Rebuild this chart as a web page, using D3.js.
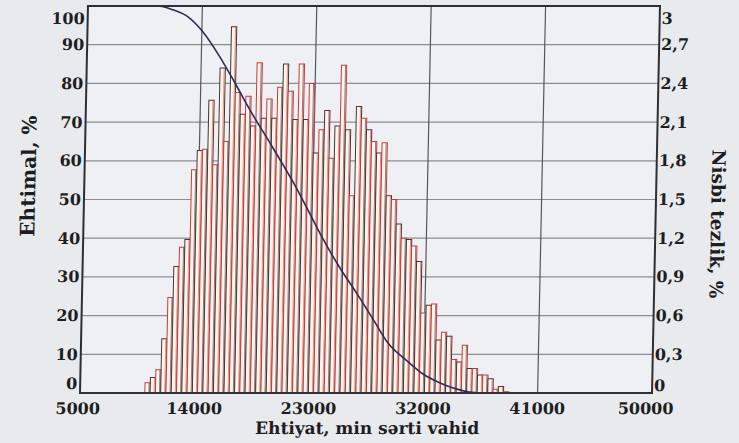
<!DOCTYPE html>
<html>
<head>
<meta charset="utf-8">
<script src="https://cdn.jsdelivr.net/npm/d3@7"></script>
<style>
  html, body { margin: 0; padding: 0; background: #e9eaee; }
  svg { display: block; }
  text { font-family: "DejaVu Serif", "Liberation Serif", serif; font-weight: bold; fill: #1e1e22; }
</style>
</head>
<body>
<svg id="chart" width="739" height="443"></svg>
<script>
// Relative frequency of each reserve bin, % (right axis)
const freq = [0.08, 0.12, 0.18, 0.42, 0.74, 0.98, 1.13, 1.19, 1.73, 1.88,
              1.89, 2.27, 1.77, 2.52, 1.95, 2.84, 2.33, 2.16, 2.30, 2.07,
              2.56, 2.13, 2.28, 2.13, 2.37, 2.55, 2.34, 2.12, 2.55, 2.12,
              2.40, 1.86, 2.04, 2.19, 1.82, 2.07, 2.54, 2.04, 1.53, 2.22,
              2.13, 2.04, 1.95, 1.86, 1.94, 1.53, 1.50, 1.31, 1.20, 1.19,
              1.14, 1.02, 0.62, 0.68, 0.69, 0.41, 0.47, 0.44, 0.26, 0.24,
              0.37, 0.19, 0.19, 0.14, 0.14, 0.11, 0.03, 0.05, 0.01];
const binStart = 10100;   // lower edge of the first bin
const binWidth = 415;     // bin width, conventional units
const bins = freq.map((f, i) => binStart + i * binWidth);

// Exceedance probability curve, % (left axis)
const curveX = [5000, 10500, 11690, 12890, 14090, 15470, 16690, 17920, 19790, 21740,
                22800, 23870, 25250, 26640, 27930, 29150, 30670, 31950, 33310, 34650,
                36470, 38500];
const curveY = [100, 100, 99, 97.2, 93.3, 86.8, 80.1, 73.1, 63.3, 52.7,
                46.3, 39.8, 32.3, 25.6, 19.1, 12.9, 8.3, 4.9, 2.6, 1.0,
                0, 0];

// Tick labels
const xTicks = [5000, 14000, 23000, 32000, 41000, 50000];
const yLeftTicks = [0, 10, 20, 30, 40, 50, 60, 70, 80, 90, 100];
const yRightTicks = [0, 0.3, 0.6, 0.9, 1.2, 1.5, 1.8, 2.1, 2.4, 2.7, 3];

const xTitle = "Ehtiyat, min sərti vahid";
const yLeftTitle = "Ehtimal, %";
const yRightTitle = "Nisbi tezlik, %";

const L = 80, R = 652, T = 6, B = 393;
const x = d3.scaleLinear().domain([5000, 50000]).range([L, R]);
const yL = d3.scaleLinear().domain([0, 100]).range([B, T]);
const yR = d3.scaleLinear().domain([0, 3]).range([B, T]);

const svg = d3.select("#chart");
// the printed page is slightly sheared: verticals lean right towards the top
const g = svg.append("g")
  .attr("transform", `translate(0,${B}) skewX(-1.18) translate(0,${-B})`);

g.append("rect").attr("x", L).attr("y", T).attr("width", R - L).attr("height", B - T)
  .attr("fill", "#eef0f3");

// grid
g.append("g").selectAll("line").data(yLeftTicks.slice(1, -1)).join("line")
  .attr("x1", L).attr("x2", R).attr("y1", d => yL(d)).attr("y2", d => yL(d))
  .attr("stroke", "#8c8d92").attr("stroke-width", 1.2);
g.append("g").selectAll("line").data(xTicks.slice(1, -1)).join("line")
  .attr("x1", d => x(d)).attr("x2", d => x(d)).attr("y1", T).attr("y2", B)
  .attr("stroke", "#55565c").attr("stroke-width", 1.2);

// histogram bars
const bw = x(binStart + binWidth) - x(binStart);
const barG = g.append("g");
barG.selectAll("rect").data(freq).join("rect")
  .attr("x", (d, i) => x(bins[i]))
  .attr("y", d => yR(d))
  .attr("width", bw)
  .attr("height", d => B - yR(d))
  .attr("fill", "#fbf5ec")
  .attr("stroke", (d, i) => i % 2 ? "#4a3434" : "#c8393f")
  .attr("stroke-width", 1);
barG.selectAll("line").data(freq).join("line")
  .attr("x1", (d, i) => x(bins[i]) + bw - 1.2)
  .attr("x2", (d, i) => x(bins[i]) + bw - 1.2)
  .attr("y1", d => yR(d) + 0.5).attr("y2", B)
  .attr("stroke", (d, i) => i % 2 ? "#d9565a" : "#5a3a3a")
  .attr("stroke-width", 0.8).attr("opacity", 0.8);

// probability curve
const line = d3.line().x(d => x(d[0])).y(d => yL(d[1])).curve(d3.curveMonotoneX);
g.append("path").datum(curveX.map((v, i) => [v, curveY[i]]))
  .attr("d", line).attr("fill", "none")
  .attr("stroke", "#2b2d5c").attr("stroke-width", 1.6);

// frame
g.append("rect").attr("x", L).attr("y", T).attr("width", R - L).attr("height", B - T)
  .attr("fill", "none").attr("stroke", "#2e2e33").attr("stroke-width", 2);

// left axis labels
g.append("g").selectAll("text").data(yLeftTicks).join("text")
  .attr("x", L - 3)
  .attr("y", d => d === 0 ? yL(d) - 10 : d === 100 ? yL(d) + 12 : yL(d))
  .attr("dy", "0.35em").attr("text-anchor", "end").attr("font-size", 16)
  .text(d => d);

// right axis labels
const fmtR = d => d === 0 || d === 3 ? String(d) : d.toFixed(1).replace(".", ",");
g.append("g").selectAll("text").data(yRightTicks).join("text")
  .attr("x", R + 2)
  .attr("y", d => d === 0 ? yR(d) - 8 : d === 3 ? yR(d) + 12 : yR(d))
  .attr("dy", "0.35em").attr("text-anchor", "start").attr("font-size", 16)
  .text(fmtR);

// x axis labels
g.append("g").selectAll("text").data(xTicks).join("text")
  .attr("x", d => x(d) + (d === 50000 ? -6 : d === 5000 ? -2 : 0))
  .attr("y", B + 15).attr("dy", "0.35em").attr("text-anchor", "middle").attr("font-size", 16)
  .text(d => d);

// titles
g.append("text").attr("x", 368).attr("y", 428).attr("dy", "0.35em")
  .attr("text-anchor", "middle").attr("font-size", 17).text(xTitle);
g.append("text").attr("transform", "translate(24,176) rotate(-90)")
  .attr("dy", "0.35em").attr("text-anchor", "middle").attr("font-size", 20).text(yLeftTitle);
g.append("text").attr("transform", "translate(714,224) rotate(90)")
  .attr("dy", "0.35em").attr("text-anchor", "middle").attr("font-size", 18.5).text(yRightTitle);
</script>
</body>
</html>
